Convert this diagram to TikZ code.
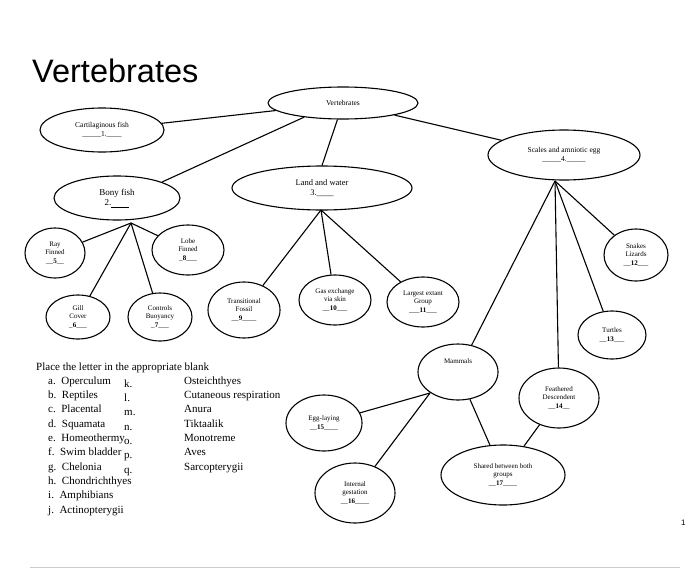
\documentclass[tikz,border=0pt]{standalone}
\usepackage{fontspec}
\setmainfont{Liberation Serif}
\newfontfamily\titlefont{Liberation Sans}
\usetikzlibrary{shapes.geometric}
\begin{document}
\begin{tikzpicture}[x=1pt,y=-1pt,
  ell/.style={draw,line width=1.1pt,ellipse,inner sep=0pt,align=center,font=\fontsize{7.5}{9}\selectfont},
  conn/.style={line width=1.1pt},
  lst/.style={anchor=base west,inner sep=0pt,font=\fontsize{11}{13}\selectfont}]
\useasboundingbox[fill=white] (0,0) rectangle (700,570);
\newcommand\bl[1]{\_\_\textbf{#1}\_\_}
\node[anchor=base west,inner sep=0pt,font=\titlefont\fontsize{32.5}{34}\selectfont] (title) at (32,82) {Vertebrates};
\node[ell,minimum width=150,minimum height=32] (vert) at (343,103) {Vertebrates};
\node[ell,minimum width=124,minimum height=44] (cart) at (102,130) {Cartilaginous fish\\\_\_\_\_\_1.\_\_\_\_};
\node[ell,minimum width=152,minimum height=50] (scal) at (564,155) {Scales and amniotic egg\\\_\_\_\_\_4.\_\_\_\_\_};
\node[ell,minimum width=180,minimum height=44,font=\fontsize{8.5}{10}\selectfont] (land) at (322,188) {Land and water\\3.\_\_\_\_};
\node[ell,minimum width=126,minimum height=44,font=\fontsize{9}{10}\selectfont] (bony) at (117,198) {Bony fish\\2.\rule[-2pt]{18pt}{0.4pt}};
\node[ell,minimum width=60,minimum height=50,font=\fontsize{7}{8.5}\selectfont] (ray) at (55,253) {Ray\\Finned\\\bl{5}};
\node[ell,minimum width=72,minimum height=50,font=\fontsize{7}{8.5}\selectfont] (lobe) at (188,250) {Lobe\\Finned\\\_\textbf{8}\_\_\_};
\node[ell,minimum width=64,minimum height=44,font=\fontsize{7}{8.5}\selectfont] (gill) at (78,317) {Gill\\Cover\\\_\textbf{6}\_\_\_};
\node[ell,minimum width=64,minimum height=48,font=\fontsize{7}{8.5}\selectfont] (buoy) at (160,317) {Controls\\Buoyancy\\\_\textbf{7}\_\_\_};
\node[ell,minimum width=72,minimum height=56,font=\fontsize{7}{8.5}\selectfont] (foss) at (244,310) {Transitional\\Fossil\\\_\_\textbf{9}\_\_\_\_};
\node[ell,minimum width=72,minimum height=50,font=\fontsize{7}{8.5}\selectfont] (gas) at (335,300) {Gas exchange\\via skin\\\_\_\textbf{10}\_\_\_};
\node[ell,minimum width=72,minimum height=50,font=\fontsize{7}{8.5}\selectfont] (larg) at (423,302) {Largest extant\\Group\\\_\_\_\textbf{11}\_\_\_};
\node[ell,minimum width=64,minimum height=52,font=\fontsize{7}{8.5}\selectfont] (snak) at (636,255) {Snakes\\Lizards\\\_\_\textbf{12}\_\_\_};
\node[ell,minimum width=68,minimum height=48,font=\fontsize{7}{8.5}\selectfont] (turt) at (612,335) {Turtles\\\_\_\textbf{13}\_\_\_};
\node[ell,minimum width=80,minimum height=56,font=\fontsize{7}{8.5}\selectfont] (mamm) at (458,372) {Mammals\\[14pt]};
\node[ell,minimum width=80,minimum height=60,font=\fontsize{7}{8.5}\selectfont] (feat) at (559,398) {Feathered\\Descendent\\\_\_\textbf{14}\_\_};
\node[ell,minimum width=76,minimum height=56,font=\fontsize{7}{8.5}\selectfont] (egg) at (324,423) {Egg-laying\\\_\_\textbf{15}\_\_\_\_};
\node[ell,minimum width=124,minimum height=60,font=\fontsize{7}{8.5}\selectfont] (shar) at (503,475) {Shared between both\\groups\\\_\_\textbf{17}\_\_\_\_};
\node[ell,minimum width=80,minimum height=60,font=\fontsize{7}{8.5}\selectfont] (gest) at (355,493) {Internal\\gestation\\\_\_\textbf{16}\_\_\_\_};
\coordinate (bh) at (131,223);
\coordinate (lh) at (321,210);
\coordinate (sh) at (555,181);
\coordinate (mh) at (430,393);
\draw[conn] (vert) -- (cart);
\draw[conn] (vert.200) -- (bony.north east);
\draw[conn] (vert) -- (land.north);
\draw[conn] (vert) -- (scal);
\draw[conn] (bh) -- (ray); \draw[conn] (bh) -- (lobe);
\draw[conn] (bh) -- (gill); \draw[conn] (bh) -- (buoy);
\draw[conn] (lh) -- (foss); \draw[conn] (lh) -- (gas); \draw[conn] (lh) -- (larg);
\draw[conn] (sh) -- (snak); \draw[conn] (sh) -- (turt);
\draw[conn] (sh) -- (mamm); \draw[conn] (sh) -- (feat);
\draw[conn] (mh) -- (egg); \draw[conn] (mh) -- (gest);
\draw[conn] (mamm) -- (shar); \draw[conn] (feat) -- (shar);
\node[lst] (head) at (36,370) {Place the letter in the appropriate blank};
\foreach \t [count=\i] in {a.\enspace Operculum, b.\enspace Reptiles, c.\enspace Placental, d.\enspace Squamata, e.\enspace Homeothermy, f.\enspace Swim bladder, g.\enspace Chelonia, h.\enspace Chondrichthyes, i.\enspace Amphibians, j.\enspace Actinopterygii}
  \node[lst] (l\i) at (48,370+14.3*\i) {\t};
\foreach \k/\t [count=\i] in {k./Osteichthyes, l./Cutaneous respiration, m./Anura, n./Tiktaalik, o./Monotreme, p./Aves, q./Sarcopterygii}
  {\node[lst] (k\i) at (124,373+14.3*\i) {\k};
   \node[lst] (w\i) at (184,370+14.3*\i) {\t};}
\node[lst,font=\titlefont\fontsize{8}{9}\selectfont] (pg) at (681,525) {1};
\draw[gray!40,line width=0.6pt] (30,567) -- (680,567);
\end{tikzpicture}
\end{document}
